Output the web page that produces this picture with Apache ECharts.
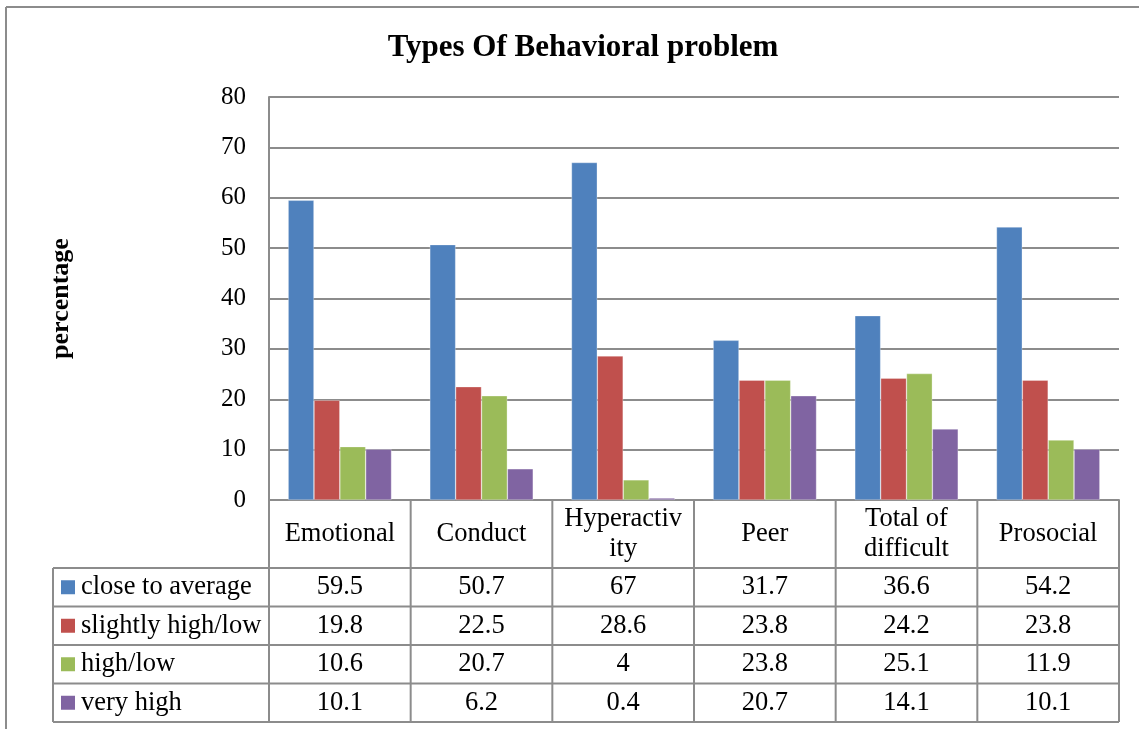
<!DOCTYPE html>
<html>
<head>
<meta charset="utf-8">
<script src="https://cdn.jsdelivr.net/npm/echarts@6/dist/echarts.min.js"></script>
<style>
  html, body { margin: 0; padding: 0; background: #fff; }
  #main { width: 1139px; height: 729px; }
</style>
</head>
<body>
<div id="main"></div>
<script>
// 数据
var categories = ['Emotional', 'Conduct', 'Hyperactivity', 'Peer', 'Total of difficult', 'Prosocial'];
var headerLabels = ['Emotional', 'Conduct', 'Hyperactiv\nity', 'Peer', 'Total of\ndifficult', 'Prosocial'];
var seriesNames = ['close to average', 'slightly high/low', 'high/low', 'very high'];
var closeToAverage = [59.5, 50.7, 67, 31.7, 36.6, 54.2];
var slightlyHighLow = [19.8, 22.5, 28.6, 23.8, 24.2, 23.8];
var highLow = [10.6, 20.7, 4, 23.8, 25.1, 11.9];
var veryHigh = [10.1, 6.2, 0.4, 20.7, 14.1, 10.1];
var yTicks = [0, 10, 20, 30, 40, 50, 60, 70, 80];

var colors = ['#4F81BD', '#C0504D', '#9BBB59', '#8064A2'];
var allValues = [closeToAverage, slightlyHighLow, highLow, veryHigh];
var font = '"Liberation Serif", "Times New Roman", serif';
var lineColor = '#8c8c8c';

var myChart = echarts.init(document.getElementById('main'));

var series = [];
for (var i = 0; i < seriesNames.length; i++) {
	series.push({
		name: seriesNames[i],
		type: 'bar',
		barGap: '0%',
		barCategoryGap: '27%',
		itemStyle: { color: colors[i], borderColor: 'rgba(255,255,255,0.5)', borderWidth: 0.6 },
		data: allValues[i],
		animation: false
	});
}

var option = {
	backgroundColor: '#fff',
	animation: false,
	title: {
		text: 'Types Of Behavioral problem',
		left: 578,
		top: 27,
		textAlign: 'center',
		textStyle: { fontFamily: font, fontWeight: 'bold', fontSize: 31, color: '#000' }
	},
	grid: { left: 269, right: 20, top: 97, bottom: 229 },
	xAxis: {
		type: 'category',
		data: categories,
		axisLine: { show: true, lineStyle: { color: lineColor, width: 2 } },
		axisTick: { show: false },
		axisLabel: { show: false }
	},
	yAxis: {
		type: 'value',
		min: yTicks[0],
		max: yTicks[yTicks.length - 1],
		interval: 10,
		name: 'percentage',
		nameLocation: 'middle',
		nameGap: 195,
		nameRotate: 90,
		nameTextStyle: { fontFamily: font, fontWeight: 'bold', fontSize: 26, color: '#000' },
		axisLine: { show: true, lineStyle: { color: lineColor, width: 2 } },
		axisTick: { show: false },
		axisLabel: { fontFamily: font, fontSize: 25, color: '#000', margin: 23 },
		splitLine: { lineStyle: { color: lineColor, width: 2 } }
	},
	series: series
};
myChart.setOption(option);

// 数据表（位置取自坐标轴）
function drawTable() {
	var n = categories.length;
	var c0 = myChart.convertToPixel({ xAxisIndex: 0 }, 0);
	var c1 = myChart.convertToPixel({ xAxisIndex: 0 }, 1);
	var band = c1 - c0;
	var top = myChart.convertToPixel({ yAxisIndex: 0 }, 0);
	var left = c0 - band / 2;
	var right = left + band * n;
	var headerH = 68;
	var rowH = 38.5;
	var legendLeft = 53;
	var bottom = top + headerH + rowH * seriesNames.length;
	var els = [];
	var txt = { fontFamily: font, fontSize: 26.5, fill: '#000' };

	// 外框
	els.push({ type: 'line', shape: { x1: 6, y1: 7, x2: 1139, y2: 7 }, style: { stroke: lineColor, lineWidth: 2 } });
	els.push({ type: 'line', shape: { x1: 6, y1: 7, x2: 6, y2: 729 }, style: { stroke: lineColor, lineWidth: 2 } });

	// 竖线
	for (var i = 0; i <= n; i++) {
		var x = left + band * i;
		els.push({ type: 'line', shape: { x1: x, y1: top, x2: x, y2: bottom }, style: { stroke: lineColor, lineWidth: 2 } });
	}
	els.push({ type: 'line', shape: { x1: legendLeft, y1: top + headerH, x2: legendLeft, y2: bottom }, style: { stroke: lineColor, lineWidth: 2 } });
	// 横线
	els.push({ type: 'line', shape: { x1: left, y1: top, x2: right, y2: top }, style: { stroke: lineColor, lineWidth: 2 } });
	for (var r = 0; r <= seriesNames.length; r++) {
		var y = top + headerH + rowH * r;
		els.push({ type: 'line', shape: { x1: legendLeft, y1: y, x2: right, y2: y }, style: { stroke: lineColor, lineWidth: 2 } });
	}
	// 表头
	for (var i = 0; i < n; i++) {
		var cx = myChart.convertToPixel({ xAxisIndex: 0 }, i);
		els.push({ type: 'text', x: cx, y: top + headerH / 2, style: echarts.util.extend({ text: headerLabels[i], align: 'center', verticalAlign: 'middle', lineHeight: 30 }, txt) });
	}
	// 行
	for (var r = 0; r < seriesNames.length; r++) {
		var cy = top + headerH + rowH * r + rowH / 2;
		els.push({ type: 'rect', shape: { x: 61, y: cy - 7, width: 14, height: 14 }, style: { fill: colors[r] } });
		els.push({ type: 'text', x: 81, y: cy, style: echarts.util.extend({ text: seriesNames[r], align: 'left', verticalAlign: 'middle' }, txt) });
		for (var i = 0; i < n; i++) {
			var cx = myChart.convertToPixel({ xAxisIndex: 0 }, i);
			els.push({ type: 'text', x: cx, y: cy, style: echarts.util.extend({ text: String(allValues[r][i]), align: 'center', verticalAlign: 'middle' }, txt) });
		}
	}
	myChart.setOption({ graphic: { elements: els } });
}
drawTable();
</script>
</body>
</html>
